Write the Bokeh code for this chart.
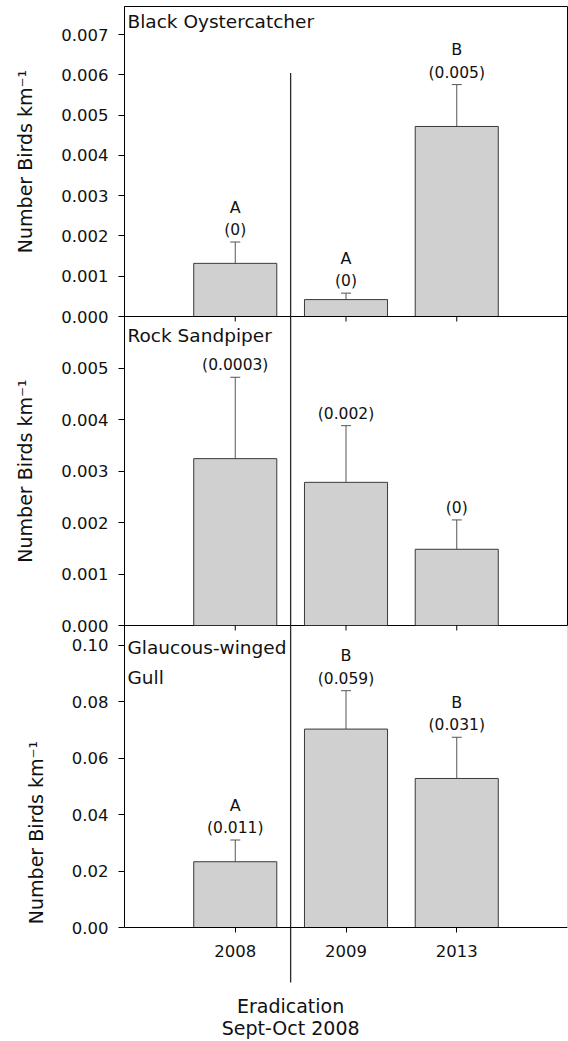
import math
from bokeh.plotting import figure
from bokeh.layouts import column
from bokeh.models import (ColumnDataSource, Range1d, FixedTicker, NumeralTickFormatter,
                          Whisker, TeeHead, LabelSet, Label, BoxAnnotation, Span)
from bokeh.core.properties import value
from bokeh.embed import file_html
from bokeh.resources import INLINE

# ---------------- data ----------------
years = ["2008", "2009", "2013"]
positions = [0, 1, 2]

oyster_mean = [0.00132, 0.00042, 0.00472]
oyster_se = [0.00053, 0.00016, 0.00104]
oyster_letters = ["A", "A", "B"]
oyster_medians = ["(0)", "(0)", "(0.005)"]

sandpiper_mean = [0.00324, 0.00278, 0.00148]
sandpiper_se = [0.00158, 0.00110, 0.00057]
sandpiper_letters = ["", "", ""]
sandpiper_medians = ["(0.0003)", "(0.002)", "(0)"]

gull_mean = [0.0233, 0.0703, 0.0528]
gull_se = [0.0077, 0.0136, 0.0146]
gull_letters = ["A", "B", "B"]
gull_medians = ["(0.011)", "(0.059)", "(0.031)"]

oyster_ticks = [0.0, 0.001, 0.002, 0.003, 0.004, 0.005, 0.006, 0.007]
sandpiper_ticks = [0.0, 0.001, 0.002, 0.003, 0.004, 0.005]
gull_ticks = [0.0, 0.02, 0.04, 0.06, 0.08, 0.10]

# ---------------- style ----------------
FONT = "DejaVu Sans"
BAR_FILL = "#d0d0d0"
BAR_LINE = "#3a3a3a"
ERR_LINE = "#555555"
TEXT = "#111111"
ERAD_COLOR = "#2b2b2b"
YLABEL = "Number Birds km\u207b\u00b9"

X_START, X_END = -1, 3
BAR_W = 0.75
ERAD_X = 0.5          # eradication between 2008 and 2009 surveys
ERAD_TOP = 0.00605    # top of the divider line in the first panel

W = 568
LEFT = 124
OVER = 12             # overlap so that bottom tick labels are not cut
F1, F2, F3 = 310, 309, 414
Y1_END = 0.0077
Y2_END = 0.006
Y3_END = 0.107
Y3_START = -Y3_END * (F3 - 302) / 302
ERAD_BOTTOM = -Y3_END * 55 / 302


def panel(mean, se, letters, medians, y_range, ticks, fmt, height, top=0, bottom=0,
          transparent=False):
    kw = {}
    if bottom:
        kw["styles"] = {"margin-bottom": f"-{bottom}px"}
    p = figure(width=W, height=height, x_range=Range1d(X_START, X_END), y_range=y_range,
               output_backend="svg", toolbar_location=None,
               min_border_left=LEFT, min_border_right=1, min_border_top=top,
               min_border_bottom=bottom, **kw)
    p.grid.visible = False
    p.outline_line_color = "black"
    p.outline_line_width = 1
    p.xaxis.visible = False
    if transparent:
        p.border_fill_color = None
        p.background_fill_color = None
    src = ColumnDataSource(dict(x=positions, mean=mean,
                                upper=[m + s for m, s in zip(mean, se)],
                                letter=letters, median=medians))
    p.vbar(x="x", top="mean", bottom=0, width=BAR_W, source=src,
           fill_color=BAR_FILL, line_color=BAR_LINE, line_width=1)
    p.add_layout(Whisker(base="x", lower="mean", upper="upper", source=src, dimension="height",
                         line_color=ERR_LINE, line_width=1,
                         upper_head=TeeHead(size=10, line_color=ERR_LINE, line_width=1),
                         lower_head=None))
    p.add_layout(LabelSet(x="x", y="upper", text="median", source=src, y_offset=12,
                          text_align="center", text_baseline="middle",
                          text_font=value(FONT), text_font_size=value("15.5px"),
                          text_color=TEXT))
    p.add_layout(LabelSet(x="x", y="upper", text="letter", source=src, y_offset=35,
                          text_align="center", text_baseline="middle",
                          text_font=value(FONT), text_font_size=value("16px"),
                          text_color=TEXT))
    ax = p.yaxis[0]
    ax.ticker = FixedTicker(ticks=ticks)
    ax.formatter = NumeralTickFormatter(format=fmt)
    ax.axis_label = YLABEL
    ax.axis_label_text_font = FONT
    ax.axis_label_text_font_size = "19px"
    ax.axis_label_text_font_style = "normal"
    ax.axis_label_text_color = TEXT
    ax.axis_label_standoff = 22
    ax.major_label_text_font = FONT
    ax.major_label_text_font_size = "16.5px"
    ax.major_label_text_color = TEXT
    ax.major_label_standoff = 10
    ax.major_tick_out = 6
    ax.major_tick_in = 0
    ax.minor_tick_line_color = None
    ax.axis_line_color = "black"
    ax.major_tick_line_color = "black"
    return p


def title(p, text, y, y_offset):
    p.add_layout(Label(x=X_START, y=y, x_offset=3, y_offset=y_offset, text=text,
                       text_baseline="top", text_font=FONT, text_font_size="18.5px",
                       text_color=TEXT))


# ---- panel 1 ----
p1 = panel(oyster_mean, oyster_se, oyster_letters, oyster_medians,
           Range1d(0, Y1_END), oyster_ticks, "0.000", 6 + F1 + OVER, top=6, bottom=OVER)
p1.segment(x0=[ERAD_X], y0=[0], x1=[ERAD_X], y1=[ERAD_TOP], line_color=ERAD_COLOR, line_width=1.3)
title(p1, "Black Oystercatcher", Y1_END, -4)

# ---- panel 2 ----
p2 = panel(sandpiper_mean, sandpiper_se, sandpiper_letters, sandpiper_medians,
           Range1d(0, Y2_END), sandpiper_ticks, "0.000", F2 + OVER, bottom=OVER,
           transparent=True)
p2.add_layout(Span(location=ERAD_X, dimension="height", line_color=ERAD_COLOR, line_width=1.3))
p2.scatter(x=positions, y=[Y2_END] * len(positions), marker="dash", size=10,
           angle=math.pi / 2, line_color="black", line_width=1)
title(p2, "Rock Sandpiper", Y2_END, -8)

# ---- panel 3 ----
p3 = panel(gull_mean, gull_se, gull_letters, gull_medians,
           Range1d(Y3_START, Y3_END), gull_ticks, "0.00", F3, transparent=True)
p3.outline_line_color = None
p3.yaxis.bounds = (0, Y3_END)
p3.add_layout(BoxAnnotation(left=X_START, right=X_END, bottom=0, top=Y3_END,
                            fill_alpha=0, line_color="black", line_width=1))
p3.segment(x0=[ERAD_X], y0=[ERAD_BOTTOM], x1=[ERAD_X], y1=[Y3_END], line_color=ERAD_COLOR, line_width=1.3)
p3.scatter(x=positions, y=[Y3_END] * len(positions), marker="dash", size=10,
           angle=math.pi / 2, line_color="black", line_width=1)
xa = p3.xaxis[0]
xa.visible = True
xa.fixed_location = 0
xa.ticker = FixedTicker(ticks=positions)
xa.major_label_overrides = {pos: yr for pos, yr in zip(positions, years)}
xa.major_label_text_font = FONT
xa.major_label_text_font_size = "16.5px"
xa.major_label_text_color = TEXT
xa.major_label_standoff = 12
xa.major_tick_out = 5
xa.major_tick_in = 0
xa.minor_tick_line_color = None
xa.axis_line_color = "black"
title(p3, "Glaucous-winged", Y3_END, -11)
p3.add_layout(Label(x=X_START, y=Y3_END, x_offset=3, y_offset=-41, text="Gull",
                    text_baseline="top", text_font=FONT, text_font_size="18.5px",
                    text_color=TEXT))
p3.add_layout(Label(x=ERAD_X, y=0, y_offset=-78, text="Eradication", text_align="center",
                    text_baseline="middle", text_font=FONT, text_font_size="19px", text_color=TEXT))
p3.add_layout(Label(x=ERAD_X, y=0, y_offset=-100, text="Sept-Oct 2008", text_align="center",
                    text_baseline="middle", text_font=FONT, text_font_size="19px", text_color=TEXT))

layout = column(p1, p2, p3, spacing=0)

with open("out.html", "w") as f:
    f.write(file_html(layout, INLINE))
